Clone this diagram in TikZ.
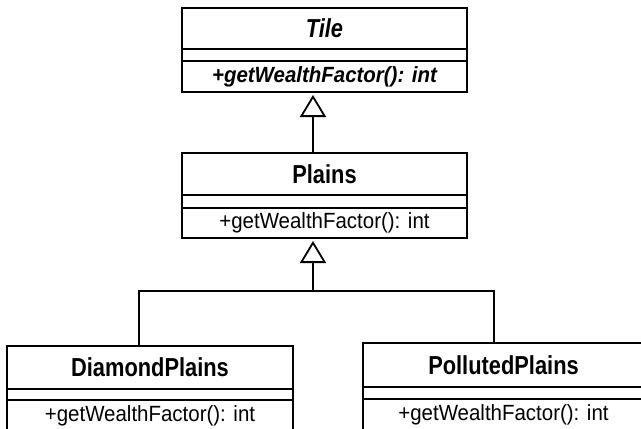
\documentclass[tikz,border=0pt]{standalone}
\usepackage{fontspec}
\setmainfont{Liberation Sans}
\newfontfamily\titlefont{Liberation Sans}[FakeStretch=0.84]
\newfontfamily\methfont{Liberation Sans}[FakeStretch=0.93]
\usetikzlibrary{arrows.meta}
\tikzset{
  part/.style={draw, line width=1.8pt, inner sep=0pt, outer sep=0pt, anchor=north west, align=center},
  namepart/.style={part, font=\titlefont\fontsize{26}{29}\selectfont\bfseries},
  methpart/.style={part, font=\methfont\fontsize{22}{25}\selectfont},
  conn/.style={line width=1.8pt},
  inh/.style={conn, -{Triangle[open, length=22pt, width=26pt, line width=1.8pt]}, shorten >=3pt},
}
\begin{document}
\begin{tikzpicture}[x=1pt, y=-1pt]
\useasboundingbox (0,0) rectangle (641,429);
\clip (0,0) rectangle (641,429);
% Tile
\node[namepart, minimum width=285pt, minimum height=41pt] (tname) at (182,8) {\itshape Tile};
\node[part, minimum width=285pt, minimum height=12pt] (tattr) at (tname.south west) {};
\node[methpart, minimum width=285pt, minimum height=31pt, font=\methfont\fontsize{22}{25}\selectfont\bfseries\itshape] (tmeth) at (tattr.south west) {+getWealthFactor(): int};
% Plains
\node[namepart, minimum width=285pt, minimum height=42pt] (pname) at (182,153) {Plains};
\node[part, minimum width=285pt, minimum height=13pt] (pattr) at (pname.south west) {};
\node[methpart, minimum width=285pt, minimum height=30pt] (pmeth) at (pattr.south west) {+getWealthFactor(): int};
% DiamondPlains
\node[namepart, minimum width=286pt, minimum height=43pt] (dname) at (7,346) {DiamondPlains};
\node[part, minimum width=286pt, minimum height=11pt] (dattr) at (dname.south west) {};
\node[methpart, minimum width=286pt, minimum height=32pt] (dmeth) at (dattr.south west) {+getWealthFactor(): int};
% PollutedPlains
\node[namepart, minimum width=281pt, minimum height=44pt] (oname) at (363,343) {PollutedPlains};
\node[part, minimum width=281pt, minimum height=12pt] (oattr) at (oname.south west) {};
\node[methpart, minimum width=281pt, minimum height=32pt] (ometh) at (oattr.south west) {+getWealthFactor(): int};
% connectors
\coordinate (ax) at (313,0);
\coordinate (j) at (313,291);
\coordinate (lx) at (139,0);
\coordinate (rx) at (494,0);
\draw[inh] (ax |- pname.north) -- (ax |- tmeth.south);
\draw[inh] (j) -- (ax |- pmeth.south);
\draw[conn] (lx |- dname.north) |- (j) -| (rx |- oname.north);
\end{tikzpicture}
\end{document}
